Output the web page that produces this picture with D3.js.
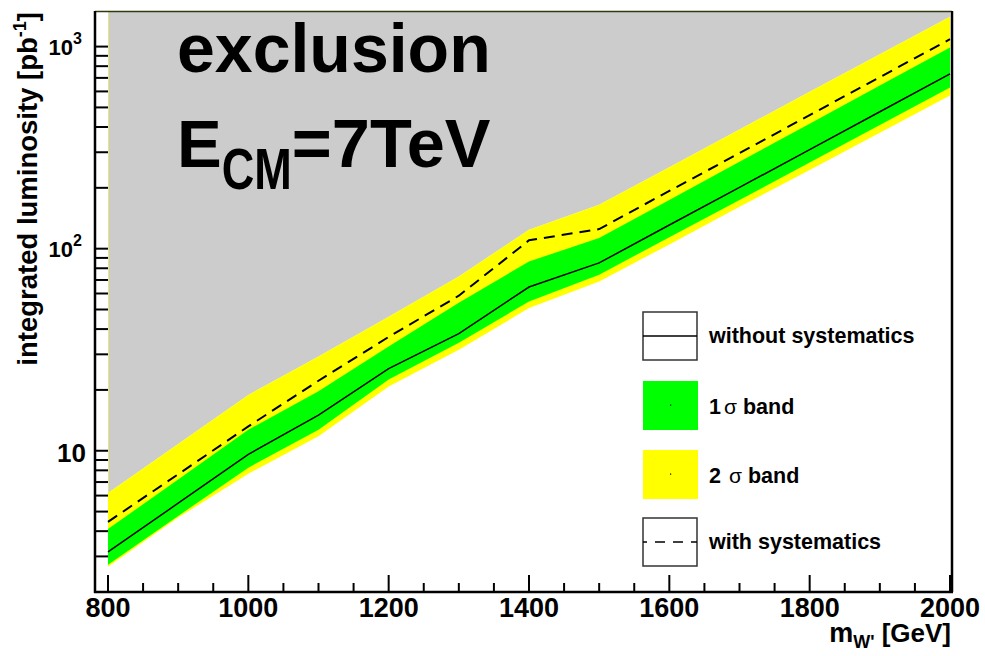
<!DOCTYPE html>
<html>
<head>
<meta charset="utf-8">
<script src="https://cdn.jsdelivr.net/npm/d3@7"></script>
<style>
  html, body { margin: 0; padding: 0; background: #ffffff; }
  svg { display: block; }
  text { font-family: "Liberation Sans", Arial, Helvetica, sans-serif; font-weight: bold; fill: #000; }
</style>
</head>
<body>
<svg id="chart" width="985" height="656"></svg>
<script>
// W' mass points [GeV]
const massPoints   = [800, 900, 1000, 1100, 1200, 1300, 1400, 1500, 1600, 1700, 1800, 1900, 2000];
// required integrated luminosity [pb^-1]
const withoutSyst  = [3.16, 5.5, 9.6, 15.0, 25.5, 38, 64.6, 85, 131, 201, 309, 476, 733];
const withSyst     = [4.45, 7.65, 13.2, 22.2, 36.6, 58.5, 110, 125, 193, 297, 458, 706, 1088];
const band1Lo      = [2.73, 4.76, 8.25, 12.7, 22.5, 34.2, 54.8, 74.3, 114, 174, 267, 409, 627];
const band1Hi      = [4.10, 7.2, 12.7, 19.7, 32.8, 54, 86.4, 112.8, 174, 269, 415, 641, 989];
const band2Lo      = [2.67, 4.67, 7.7, 11.8, 20.8, 31.6, 50.8, 68.8, 105, 161, 245, 375, 573];
const band2Hi      = [6.18, 10.8, 18.9, 29.3, 46, 72.9, 124, 165, 253, 389, 597, 917, 1406];

// axes
const xRange       = [800, 2000];
const yRange       = [2, 1500];
const xMajorTicks  = [800, 1000, 1200, 1400, 1600, 1800, 2000];
const yLabelTicks  = [10, 100, 1000];

const legendLabels = ["without systematics", "1", "2", "with systematics"];

const svg = d3.select("#chart");

const frame = { left: 95, right: 952, top: 11, bottom: 592 };
const x = d3.scaleLinear().domain(xRange).range([108, 950]);
const y = d3.scaleLog().domain(yRange).range([frame.bottom, frame.top]);

const pts = massPoints.map((m, i) => ({
  m, solid: withoutSyst[i], dash: withSyst[i],
  l1: band1Lo[i], h1: band1Hi[i], l2: band2Lo[i], h2: band2Hi[i]
}));

// excluded region above the 2 sigma band
svg.append("path")
  .datum(pts)
  .attr("d", d3.area().x(d => x(d.m)).y0(d => y(d.h2)).y1(() => y(yRange[1])))
  .attr("fill", "#cccccc");
svg.append("line")
  .attr("x1", x(xRange[0]) + 0.5).attr("x2", x(xRange[0]) + 0.5)
  .attr("y1", y(yRange[1])).attr("y2", y(band2Hi[0]))
  .attr("stroke", "#e6e67a").attr("stroke-width", 1);

// 2 sigma band
svg.append("path")
  .datum(pts)
  .attr("d", d3.area().x(d => x(d.m)).y0(d => y(d.l2)).y1(d => y(d.h2)))
  .attr("fill", "#ffff00");

// 1 sigma band
svg.append("path")
  .datum(pts)
  .attr("d", d3.area().x(d => x(d.m)).y0(d => y(d.l1)).y1(d => y(d.h1)))
  .attr("fill", "#00ff00");

// expected limits
svg.append("path")
  .datum(pts)
  .attr("d", d3.line().x(d => x(d.m)).y(d => y(d.solid)))
  .attr("fill", "none").attr("stroke", "#000").attr("stroke-width", 1.5);

svg.append("path")
  .datum(pts)
  .attr("d", d3.line().x(d => x(d.m)).y(d => y(d.dash)))
  .attr("fill", "none").attr("stroke", "#000").attr("stroke-width", 2)
  .attr("stroke-dasharray", "11,7");

// frame
svg.append("line")
  .attr("x1", frame.left).attr("x2", frame.right)
  .attr("y1", frame.top + 0.5).attr("y2", frame.top + 0.5)
  .attr("stroke", "#2f3a10").attr("stroke-width", 1.5);
svg.append("line")
  .attr("x1", frame.right).attr("x2", frame.right)
  .attr("y1", frame.top).attr("y2", frame.bottom)
  .attr("stroke", "#000").attr("stroke-width", 2.5);
svg.append("line")
  .attr("x1", frame.left).attr("x2", frame.left)
  .attr("y1", frame.top).attr("y2", frame.bottom + 1)
  .attr("stroke", "#000").attr("stroke-width", 2.5);
svg.append("line")
  .attr("x1", frame.left - 1).attr("x2", frame.right + 1)
  .attr("y1", frame.bottom).attr("y2", frame.bottom)
  .attr("stroke", "#000").attr("stroke-width", 2.5);

// x ticks: major every 200, minor every 50
const xMinor = d3.range(xRange[0], xRange[1] + 1, 50).filter(v => !xMajorTicks.includes(v));
svg.append("g").selectAll("line").data(xMinor).join("line")
  .attr("x1", d => x(d)).attr("x2", d => x(d))
  .attr("y1", frame.bottom).attr("y2", frame.bottom - 9)
  .attr("stroke", "#000").attr("stroke-width", 2);
svg.append("g").selectAll("line").data(xMajorTicks).join("line")
  .attr("x1", d => x(d)).attr("x2", d => x(d))
  .attr("y1", frame.bottom).attr("y2", frame.bottom - 17)
  .attr("stroke", "#000").attr("stroke-width", 2);
svg.append("g").selectAll("text").data(xMajorTicks).join("text")
  .attr("x", d => x(d)).attr("y", 617)
  .attr("text-anchor", "middle").attr("font-size", 27)
  .text(d => d);

// y ticks: every 1..9 x 10^k inside the range
const yTicks = [];
for (let e = 0; e <= 3; e++) for (let k = 1; k <= 9; k++) {
  const v = k * Math.pow(10, e);
  if (v > yRange[0] && v <= yRange[1]) yTicks.push(v);
}
svg.append("g").selectAll("line").data(yTicks).join("line")
  .attr("x1", frame.left).attr("x2", frame.left + 13)
  .attr("y1", d => y(d)).attr("y2", d => y(d))
  .attr("stroke", "#000").attr("stroke-width", 2);

const yLab = svg.append("g").selectAll("text").data(yLabelTicks).join("text")
  .attr("text-anchor", "end");
yLab.each(function(d) {
  const t = d3.select(this);
  const e = Math.round(Math.log10(d));
  if (e === 1) {
    t.attr("x", 86).attr("y", y(d) + 11).attr("font-size", 26).text("10");
  } else {
    t.attr("x", 82).attr("y", y(d) + 8.5);
    t.append("tspan").attr("font-size", 22).text("10");
    t.append("tspan").attr("font-size", 16).attr("dy", -11).text(e);
  }
});

// axis titles
const xt = svg.append("text").attr("x", 951).attr("y", 642).attr("text-anchor", "end");
xt.append("tspan").attr("font-size", 27).text("m");
xt.append("tspan").attr("font-size", 18).attr("dy", 6).text("W'");
xt.append("tspan").attr("font-size", 26).attr("dy", -6).text(" [GeV]");

const yt = svg.append("text")
  .attr("transform", "translate(37,12) rotate(-90)")
  .attr("text-anchor", "end");
yt.append("tspan").attr("font-size", 27.5).text("integrated luminosity [pb");
yt.append("tspan").attr("font-size", 18).attr("dy", -11).text("-1");
yt.append("tspan").attr("font-size", 27.5).attr("dy", 11).text("]");

// plot annotations
svg.append("text").attr("x", 177).attr("y", 72).attr("font-size", 68).text("exclusion");

const eText = svg.append("text").attr("x", 177).attr("y", 167).attr("font-size", 67).text("E");
const eW = eText.node().getComputedTextLength();
const cmText = svg.append("text")
  .attr("transform", `translate(${177 + eW},189) scale(0.98,1.25)`)
  .attr("font-size", 46).text("CM");
const cmW = cmText.node().getComputedTextLength() * 0.98;
svg.append("text").attr("x", 177 + eW + cmW).attr("y", 167).attr("font-size", 68.5).text("=7TeV");

// legend
const legX = 643, legW = 54, legH = 48, legTextX = 709;
const rows = [312, 381, 450, 518];

// without systematics
svg.append("rect").attr("x", legX).attr("y", rows[0]).attr("width", legW).attr("height", legH)
  .attr("fill", "#fff").attr("stroke", "#333").attr("stroke-width", 1.5);
svg.append("line").attr("x1", legX).attr("x2", legX + legW)
  .attr("y1", rows[0] + legH / 2).attr("y2", rows[0] + legH / 2)
  .attr("stroke", "#000").attr("stroke-width", 1.5);

// 1 sigma
svg.append("rect").attr("x", legX).attr("y", rows[1]).attr("width", legW + 1).attr("height", legH + 1)
  .attr("fill", "#00ff00");
// 2 sigma
svg.append("rect").attr("x", legX).attr("y", rows[2]).attr("width", legW + 1).attr("height", legH + 1)
  .attr("fill", "#ffff00");
[rows[1], rows[2]].forEach(r => {
  svg.append("rect").attr("x", legX + legW / 2).attr("y", r + legH / 2 - 0.5)
    .attr("width", 1.2).attr("height", 1.2).attr("fill", "#000");
});

// with systematics
svg.append("rect").attr("x", legX).attr("y", rows[3]).attr("width", legW).attr("height", legH)
  .attr("fill", "#fff").attr("stroke", "#333").attr("stroke-width", 1.5);
svg.append("line").attr("x1", legX).attr("x2", legX + legW)
  .attr("y1", rows[3] + legH / 2).attr("y2", rows[3] + legH / 2)
  .attr("stroke", "#000").attr("stroke-width", 1.5)
  .attr("stroke-dasharray", "4,8,10,8,10,8,10");

const legText = svg.append("g");
legText.append("text").attr("x", legTextX).attr("y", rows[0] + 31).attr("font-size", 21.5).text(legendLabels[0]);
[1, 2].forEach(i => {
  const t = legText.append("text").attr("x", legTextX).attr("y", rows[i] + 33).attr("font-size", 21.5);
  t.append("tspan").text(legendLabels[i]);
  t.append("tspan").attr("dx", i === 1 ? 3 : 8).attr("font-weight", "normal").attr("font-size", 21).text("σ");
  t.append("tspan").text(" band");
});
legText.append("text").attr("x", legTextX).attr("y", rows[3] + 31).attr("font-size", 21.5).text(legendLabels[3]);
</script>
</body>
</html>
